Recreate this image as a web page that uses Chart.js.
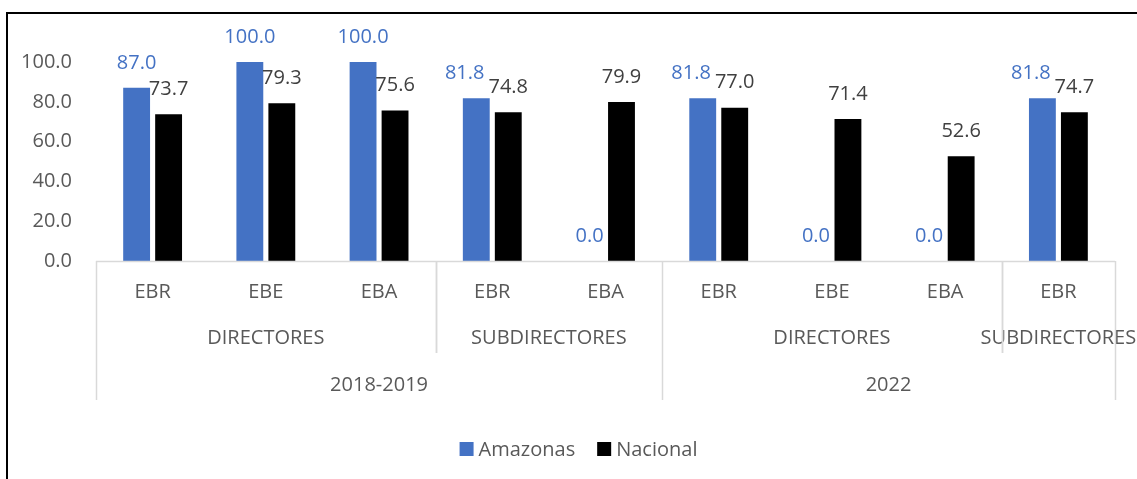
<!DOCTYPE html>
<html>
<head>
<meta charset="utf-8">
<script src="https://cdn.jsdelivr.net/npm/chart.js@4.4.1/dist/chart.umd.min.js"></script>
<style>
  html, body { margin: 0; padding: 0; background: #ffffff; }
  #wrap { width: 1137px; height: 479px; position: relative; }
</style>
</head>
<body>
<div id="wrap"><canvas id="c" width="1137" height="479"></canvas></div>
<script>
// ---- data ----
const categories = ['EBR', 'EBE', 'EBA', 'EBR', 'EBA', 'EBR', 'EBE', 'EBA', 'EBR'];
const roles = ['DIRECTORES', 'DIRECTORES', 'DIRECTORES', 'SUBDIRECTORES', 'SUBDIRECTORES',
               'DIRECTORES', 'DIRECTORES', 'DIRECTORES', 'SUBDIRECTORES'];
const periods = ['2018-2019', '2018-2019', '2018-2019', '2018-2019', '2018-2019',
                 '2022', '2022', '2022', '2022'];
const amazonas = [87.0, 100.0, 100.0, 81.8, 0.0, 81.8, 0.0, 0.0, 81.8];
const nacional = [73.7, 79.3, 75.6, 74.8, 79.9, 77.0, 71.4, 52.6, 74.7];
const seriesNames = ['Amazonas', 'Nacional'];
const yTicks = [0, 20, 40, 60, 80, 100];

const FONT = "'Open Sans', 'Liberation Sans', sans-serif";
const FSIZE = 20;
const TEXT = '#595959';
const GRID = '#D9D9D9';
const BLUE = '#4472C4';
const BLACK = '#000000';
const labelColors = [BLUE, '#404040'];

// runs of equal values -> spans
function runs(keys) {
  const out = [];
  keys.forEach((k, i) => {
    if (out.length && out[out.length - 1].key === k) out[out.length - 1].end = i;
    else out.push({ key: k, start: i, end: i });
  });
  return out;
}

const framePlugin = {
  id: 'frame',
  beforeDraw(chart) {
    const ctx = chart.ctx;
    ctx.save();
    ctx.fillStyle = '#ffffff';
    ctx.fillRect(0, 0, chart.width, chart.height);
    ctx.strokeStyle = '#000000';
    ctx.lineWidth = 2;
    ctx.beginPath();
    ctx.moveTo(7, chart.height + 2);
    ctx.lineTo(7, 13);
    ctx.lineTo(chart.width + 2, 13);
    ctx.stroke();
    ctx.restore();
  }
};

const axisPlugin = {
  id: 'multiAxis',
  afterDraw(chart) {
    const ctx = chart.ctx;
    const xs = chart.scales.x;
    const area = chart.chartArea;
    const n = categories.length;
    const cw = (xs.right - xs.left) / n;
    const edge = i => xs.getPixelForValue(i) - cw / 2;
    const bottom = area.bottom;
    ctx.save();
    // axis line
    ctx.strokeStyle = GRID;
    ctx.lineWidth = 1.5;
    ctx.beginPath();
    ctx.moveTo(xs.left, bottom + 0.5);
    ctx.lineTo(xs.right, bottom + 0.5);
    ctx.stroke();

    ctx.font = FSIZE + 'px ' + FONT;
    ctx.fillStyle = TEXT;
    ctx.textAlign = 'center';
    ctx.textBaseline = 'middle';
    // tier 1: categories
    categories.forEach((c, i) => ctx.fillText(c, xs.getPixelForValue(i), bottom + 31));

    // tier 2: roles within periods
    const roleKeys = roles.map((r, i) => periods[i] + '|' + r);
    const roleRuns = runs(roleKeys);
    roleRuns.forEach(r => {
      const x0 = edge(r.start), x1 = edge(r.end + 1);
      ctx.fillText(roles[r.start], (x0 + x1) / 2, bottom + 77);
    });
    // tier 3: periods
    const perRuns = runs(periods);
    perRuns.forEach(r => {
      const x0 = edge(r.start), x1 = edge(r.end + 1);
      ctx.fillText(r.key, (x0 + x1) / 2, bottom + 124);
    });

    // separators
    ctx.strokeStyle = GRID;
    ctx.lineWidth = 1.5;
    const perEdges = new Set();
    perRuns.forEach(r => { perEdges.add(r.start); perEdges.add(r.end + 1); });
    perEdges.forEach(i => {
      const x = Math.round(edge(i)) + 0.5;
      ctx.beginPath(); ctx.moveTo(x, bottom); ctx.lineTo(x, bottom + 139); ctx.stroke();
    });
    roleRuns.forEach(r => {
      [r.start, r.end + 1].forEach(i => {
        if (perEdges.has(i)) return;
        const x = Math.round(edge(i)) + 0.5;
        ctx.beginPath(); ctx.moveTo(x, bottom); ctx.lineTo(x, bottom + 92); ctx.stroke();
      });
    });

    // legend
    const sq = 14, gapSq = 5, gapItem = 22;
    const widths = seriesNames.map(s => sq + gapSq + ctx.measureText(s).width);
    const total = widths.reduce((a, b) => a + b, 0) + gapItem * (seriesNames.length - 1);
    let lx = chart.width / 2 + 10 - total / 2;
    const ly = 449;
    ctx.textAlign = 'left';
    seriesNames.forEach((s, k) => {
      ctx.fillStyle = chart.data.datasets[k].backgroundColor;
      ctx.fillRect(lx, ly - sq / 2, sq, sq);
      ctx.fillStyle = TEXT;
      ctx.fillText(s, lx + sq + gapSq, ly + 1);
      lx += widths[k] + gapItem;
    });
    ctx.restore();
  }
};

const labelPlugin = {
  id: 'valueLabels',
  afterDatasetsDraw(chart) {
    const ctx = chart.ctx;
    ctx.save();
    ctx.font = FSIZE + 'px ' + FONT;
    ctx.textAlign = 'center';
    ctx.textBaseline = 'middle';
    const m0 = chart.getDatasetMeta(0), m1 = chart.getDatasetMeta(1);
    const H = 14;
    for (let i = 0; i < categories.length; i++) {
      const boxes = [m0, m1].map((m, k) => {
        const el = m.data[i];
        const v = chart.data.datasets[k].data[i];
        const t = v.toFixed(1);
        const w = ctx.measureText(t).width;
        return { t, w, x: el.x, y: el.y - 25, k };
      });
      const a = boxes[0], b = boxes[1];
      const overlapX = (a.x + a.w / 2) - (b.x - b.w / 2);
      const overlapY = Math.abs(a.y - b.y) < H + 2;
      if (overlapX > -4 && overlapY) {
        a.x -= overlapX + 4;
      }
      boxes.forEach(bx => {
        ctx.fillStyle = labelColors[bx.k];
        ctx.fillText(bx.t, bx.x, bx.y);
      });
    }
    ctx.restore();
  }
};

new Chart(document.getElementById('c'), {
  type: 'bar',
  data: {
    labels: categories.map((c, i) => c + ' ' + i),
    datasets: [
      { label: seriesNames[0], data: amazonas, backgroundColor: BLUE,
        categoryPercentage: 0.565, barPercentage: 0.84 },
      { label: seriesNames[1], data: nacional, backgroundColor: BLACK,
        categoryPercentage: 0.565, barPercentage: 0.84 }
    ]
  },
  options: {
    responsive: false,
    animation: false,
    layout: { padding: { top: 62, right: 22, bottom: 218, left: 0 } },
    plugins: { legend: { display: false }, tooltip: { enabled: false } },
    scales: {
      x: { display: false, offset: true, grid: { display: false } },
      y: {
        min: 0, max: 100,
        afterFit(scale) { scale.width = 96; },
        afterBuildTicks(scale) { scale.ticks = yTicks.map(v => ({ value: v })); },
        grid: { display: false, drawTicks: false },
        border: { display: false },
        ticks: {
          padding: 24,
          color: TEXT,
          font: { family: FONT, size: FSIZE },
          callback: v => Number(v).toFixed(1)
        }
      }
    }
  },
  plugins: [framePlugin, axisPlugin, labelPlugin]
});
</script>
</body>
</html>
